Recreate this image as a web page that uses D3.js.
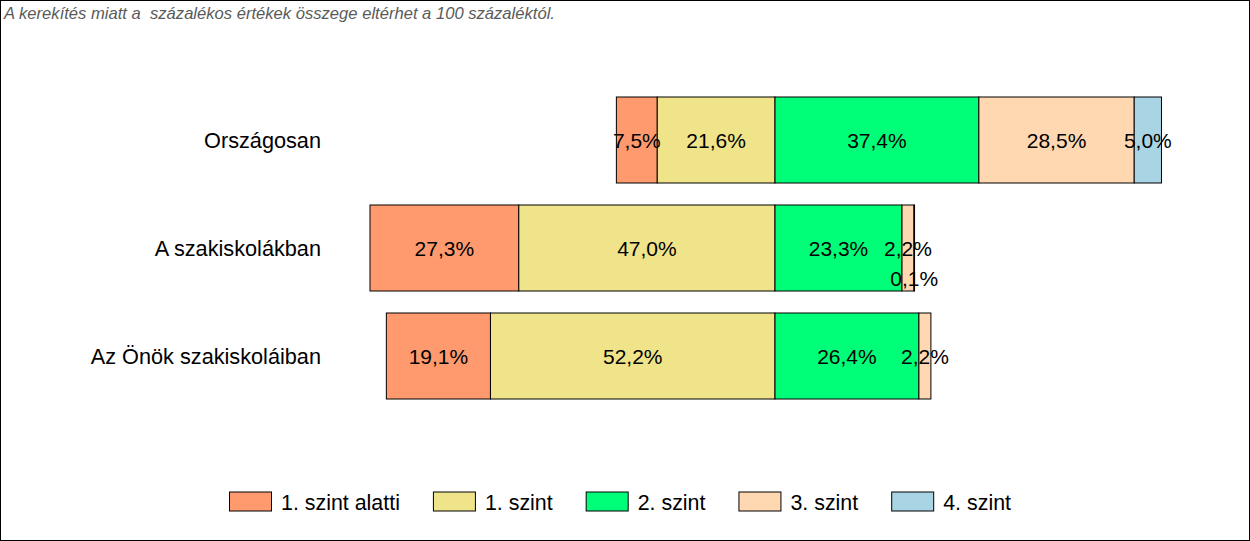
<!DOCTYPE html>
<html>
<head>
<meta charset="utf-8">
<script src="https://cdn.jsdelivr.net/npm/d3@7"></script>
<style>
  body { margin: 0; background: #fff; }
  svg { display: block; font-family: "Liberation Sans", Arial, sans-serif; }
</style>
</head>
<body>
<svg id="chart"></svg>
<script>
// data
const categories = ["Országosan", "A szakiskolákban", "Az Önök szakiskoláiban"];
const levels = ["1. szint alatti", "1. szint", "2. szint", "3. szint", "4. szint"];
const levelColors = ["#FF9A6E", "#F0E48A", "#00FF78", "#FFD8B2", "#A8D4E4"];
const values = [
    [7.5, 21.6, 37.4, 28.5, 5.0],
    [27.3, 47.0, 23.3, 2.2, 0.1],
    [19.1, 52.2, 26.4, 2.2, 0]
];
const note = "A kerekítés miatt a  százalékos értékek összege eltérhet a 100 százaléktól.";

const width = 1250, height = 541;
const svg = d3.select("#chart").attr("width", width).attr("height", height);

// outer frame
svg.append("rect")
    .attr("x", 0.5).attr("y", 0.5)
    .attr("width", width - 1).attr("height", height - 1)
    .attr("fill", "#fff").attr("stroke", "#000");

svg.append("text")
    .attr("x", 4).attr("y", 19)
    .attr("font-size", 16.6)
    .attr("font-style", "italic")
    .attr("fill", "#5a5a5a")
    .style("white-space", "pre")
    .text(note);

// diverging: first two levels go left of zero, others right
const x = d3.scaleLinear().domain([-80, 80]).range([775 - 80 * 5.451, 775 + 80 * 5.451]);
const y = d3.scaleBand().domain(categories).range([86, 410])
    .paddingInner(22 / 108).paddingOuter(11 / 108);

const segs = [];
values.forEach((row, i) => {
    let left = -(row[0] + row[1]);
    row.forEach((v, j) => {
        segs.push({ cat: categories[i], level: j, v: v, x0: left, x1: left + v });
        left += v;
    });
});

const g = svg.append("g");

g.selectAll("rect.seg")
    .data(segs.filter(d => d.v > 0))
    .join("rect")
    .attr("class", "seg")
    .attr("x", d => x(d.x0))
    .attr("y", d => y(d.cat))
    .attr("width", d => x(d.x1) - x(d.x0))
    .attr("height", y.bandwidth())
    .attr("fill", d => levelColors[d.level])
    .attr("stroke", "#000")
    .attr("stroke-width", 1);

g.selectAll("text.val")
    .data(segs.filter(d => d.v > 0))
    .join("text")
    .attr("class", "val")
    .attr("x", d => x((d.x0 + d.x1) / 2))
    .attr("y", d => y(d.cat) + y.bandwidth() / 2 + (d.v < 1 ? 30 : 0))
    .attr("dy", "0.36em")
    .attr("text-anchor", "middle")
    .attr("font-size", 21)
    .attr("fill", "#000")
    .text(d => d.v.toFixed(1).replace(".", ",") + "%");

// category labels
g.selectAll("text.cat")
    .data(categories)
    .join("text")
    .attr("class", "cat")
    .attr("x", 321)
    .attr("y", d => y(d) + y.bandwidth() / 2)
    .attr("dy", "0.36em")
    .attr("text-anchor", "end")
    .attr("font-size", 21.7)
    .text(d => d);

// legend
const legend = svg.append("g");
const items = legend.selectAll("g")
    .data(levels)
    .join("g");
items.append("rect")
    .attr("width", 42).attr("height", 19)
    .attr("y", 492)
    .attr("fill", (d, i) => levelColors[i])
    .attr("stroke", "#000");
items.append("text")
    .attr("y", 502)
    .attr("dy", "0.36em")
    .attr("font-size", 21.4)
    .text(d => d);

let lx = 229;
items.each(function () {
    const gi = d3.select(this);
    const t = gi.select("text").node().getComputedTextLength();
    gi.select("rect").attr("x", lx + 0.5);
    gi.select("text").attr("x", lx + 52);
    lx += 42 + 10 + t + 33;
});
</script>
</body>
</html>
